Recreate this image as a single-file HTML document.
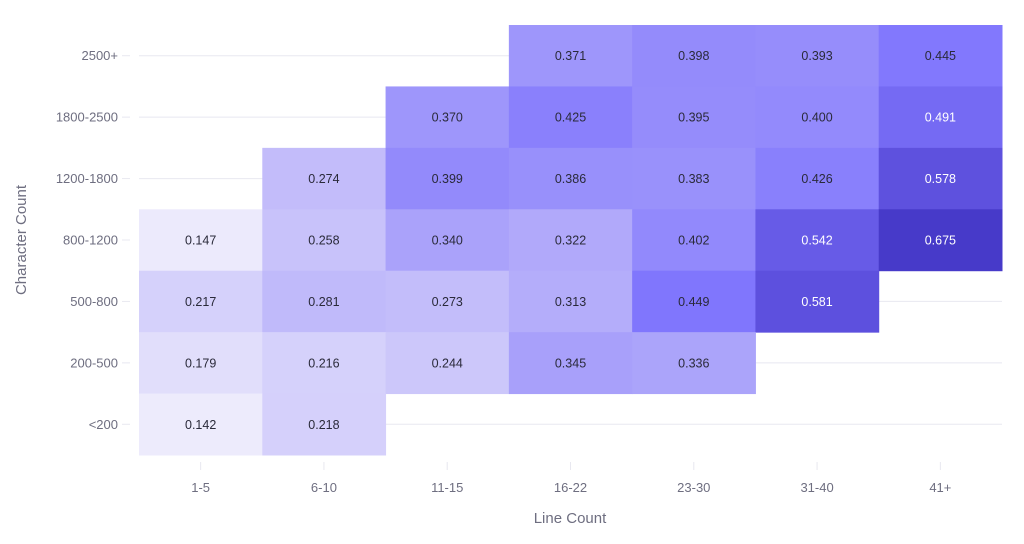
<!DOCTYPE html>
<html><head><meta charset="utf-8"><style>
html,body{margin:0;padding:0;background:#fff;}
svg{display:block;font-family:"Liberation Sans",sans-serif;}
</style></head><body>
<svg id="s" width="1024" height="544" xmlns="http://www.w3.org/2000/svg"></svg>
<script>
const s=document.getElementById('s');
const X0=139,CW=(1002-139)/7,Y0=25,RH=(455-25)/7;
const cols=['1-5','6-10','11-15','16-22','23-30','31-40','41+'];
const rows=['2500+','1800-2500','1200-1800','800-1200','500-800','200-500','<200'];
const data=[
[null,null,null,.371,.398,.393,.445],
[null,null,.370,.425,.395,.400,.491],
[null,.274,.399,.386,.383,.426,.578],
[.147,.258,.340,.322,.402,.542,.675],
[.217,.281,.273,.313,.449,.581,null],
[.179,.216,.244,.345,.336,null,null],
[.142,.218,null,null,null,null,null]];
const stops=[[.14,[238,236,252]],[.27,[196,190,250]],[.35,[166,158,250]],[.45,[128,118,253]],[.58,[93,80,222]],[.68,[70,57,200]]];
function col(v){for(let i=0;i<stops.length-1;i++){const[a,ca]=stops[i],[b,cb]=stops[i+1];if(v<=b||i==stops.length-2){let t=Math.max(0,Math.min(1,(v-a)/(b-a)));return 'rgb('+ca.map((c,k)=>Math.round(c+(cb[k]-c)*t)).join(',')+')';}}}
let h='';
rows.forEach((r,i)=>{const y=Y0+RH*(i+.5);
h+=`<line x1="${X0}" x2="1002" y1="${y}" y2="${y}" stroke="#e8e8f0" stroke-width="1"/>`;
h+=`<line x1="122" x2="130" y1="${y}" y2="${y}" stroke="#e8e8f0"/>`;
h+=`<text x="118" y="${y+4.5}" text-anchor="end" font-size="13" fill="#6e6e80">${r.replace('<','&lt;')}</text>`;});
cols.forEach((c,j)=>{const x=X0+CW*(j+.5);
h+=`<line x1="${x}" x2="${x}" y1="462" y2="470" stroke="#e8e8f0"/>`;
h+=`<text x="${x}" y="492" text-anchor="middle" font-size="13" fill="#6e6e80">${c}</text>`;});
data.forEach((row,i)=>row.forEach((v,j)=>{if(v==null)return;const x=X0+CW*j,y=Y0+RH*i;
h+=`<rect x="${x}" y="${y}" width="${CW+.5}" height="${RH+.5}" fill="${col(v)}"/>`;
h+=`<text x="${x+CW/2}" y="${y+RH/2+4.5}" text-anchor="middle" font-size="12.5" fill="${v>0.48?'#fff':'#2a2a3a'}">${v.toFixed(3)}</text>`;}));
h+=`<text x="570" y="523" text-anchor="middle" font-size="15" fill="#6e6e80">Line Count</text>`;
h+=`<text transform="translate(26,240) rotate(-90)" text-anchor="middle" font-size="15" fill="#6e6e80">Character Count</text>`;
s.innerHTML=h;
</script>
</body></html>
